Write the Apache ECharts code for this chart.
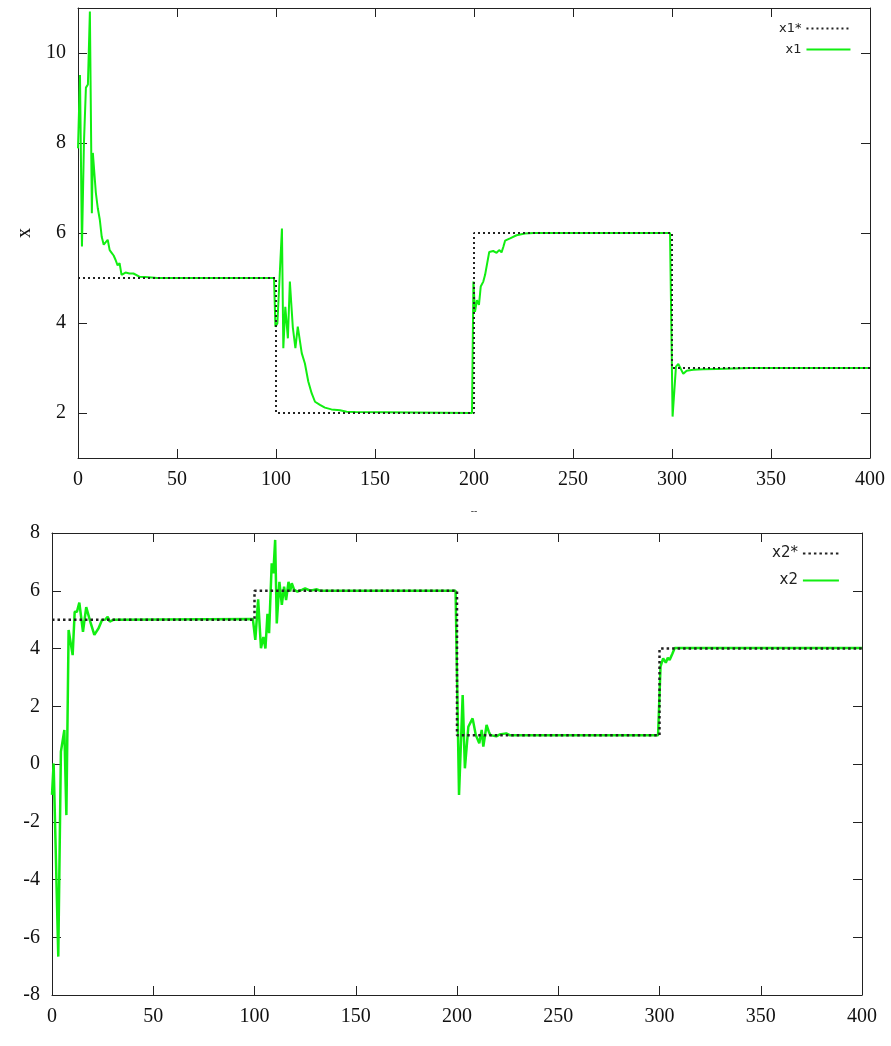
<!DOCTYPE html>
<html>
<head>
<meta charset="utf-8">
<script src="https://cdn.jsdelivr.net/npm/echarts@6/dist/echarts.min.js"></script>
<style>html,body{margin:0;padding:0;background:#fff;}#c{width:891px;height:1046px;}</style>
</head>
<body>
<div id="c"></div>
<script>
// ---- Top chart: x1 reference (step) ----
var x1RefT = [0, 100, 100, 200, 200, 300, 300, 400];
var x1RefV = [5, 5, 2, 2, 6, 6, 3, 3];
// ---- Top chart: x1 response ----
var x1T = [0,1,2,3,4,5,6,7,7.5,8,9,10,11,12,13,14,15,16,17,18,19,20,21,22,24,26,28,29,31,34,40,
  99,99.7,100.7,103,103.7,104.7,106,107,108.5,109.8,111,112,113,114.6,116.3,118,119.7,122.2,124.7,128,132.3,135.7,140,199,
  199.7,200.5,201.5,202.5,203.4,204.7,205.6,207.7,209.7,211.4,212.7,213.9,214.8,215.7,218.2,221.5,225.7,230,299,
  300.3,302,303.2,305.7,307.4,310.7,315.8,322.5,339,400];
var x1V = [7.88,9.51,5.70,8.0,9.23,9.3,10.92,6.44,7.78,7.75,6.9,6.55,6.3,5.91,5.74,5.72,5.85,5.62,5.56,5.5,5.4,5.28,5.33,5.07,5.12,5.1,5.1,5.08,5.03,5.02,5.0,
  5.0,3.92,3.99,6.1,3.44,4.36,3.66,4.92,3.9,3.44,3.92,3.9,3.33,3.1,2.70,2.44,2.25,2.18,2.12,2.08,2.06,2.03,2.02,2.0,
  4.92,4.25,4.51,4.4,4.81,4.92,5.07,5.58,5.6,5.56,5.62,5.57,5.69,5.83,5.88,5.95,5.99,6.0,6.0,
  1.92,3.03,3.09,2.87,2.94,2.96,2.97,2.98,3.0,3.0];
// ---- Bottom chart: x2 reference (step) ----
var x2RefT = [0, 100, 100, 200, 200, 300, 300, 400];
var x2RefV = [5, 5, 6, 6, 1, 1, 4, 4];
// ---- Bottom chart: x2 response ----
var x2T = [0,0.8,3.1,4.4,5.2,6.1,7.1,8.2,10.2,11.2,12.3,13.5,15.3,16.9,18.9,20.9,23,24.7,26.3,27.5,28.5,30.5,
  99.2,100.4,101.8,103.2,104.4,105.4,106.4,107.2,108.5,109.3,110.2,111,112.3,113.5,114.6,115.6,116.8,117.6,118.4,119.6,121.2,123.4,125,127.5,130.8,132.4,
  199.3,201,202.8,203.9,205.6,207.7,209.3,211,212.2,213,214.6,215.7,216.5,219.4,221,224.3,226,
  299.3,300.5,301.8,303.1,304.1,305,306.4,307.5,400];
var x2V = [-1.07,0.02,-6.67,0.43,0.37,1.18,-1.77,4.64,3.77,5.27,5.27,5.59,4.58,5.43,4.93,4.47,4.70,4.99,5.0,5.1,4.93,5.0,
  5.02,4.3,5.70,4.01,4.4,4.0,5.2,4.53,6.95,6.6,7.76,4.87,6.31,5.51,6.14,5.68,6.31,5.97,6.26,6.03,5.97,6.03,6.08,6.0,6.05,6.0,
  6.0,-1.07,2.39,-0.15,1.29,1.58,1.0,0.72,1.18,0.60,1.35,1.12,1.0,0.96,1.02,1.06,1.0,
  1.0,3.37,3.66,3.51,3.68,3.6,3.83,4.02,4.02];
// ---- Tick labels ----
var xTicks = [0, 50, 100, 150, 200, 250, 300, 350, 400];
var y1Ticks = [2, 4, 6, 8, 10];
var y2Ticks = [-8, -6, -4, -2, 0, 2, 4, 6, 8];

function zip(t, v) { return t.map(function (x, i) { return [x, v[i]]; }); }

var serif = 'Liberation Serif';
var lblFont = { fontFamily: serif, fontSize: 20, color: '#111' };

function xAx(grid, pos, showLabel, extra) {
  var o = {
    type: 'value', gridIndex: grid, position: pos, min: 0, max: 400, interval: 50,
    axisLine: { show: true, onZero: false, lineStyle: { color: '#222', width: 1 } },
    axisTick: { show: true, inside: true, length: 9, lineStyle: { color: '#222' } },
    axisLabel: Object.assign({ show: showLabel, margin: 12 }, lblFont),
    splitLine: { show: false }
  };
  return Object.assign(o, extra || {});
}
function yAx(grid, pos, showLabel, mn, mx, ticks, extra) {
  var o = {
    type: 'value', gridIndex: grid, position: pos, min: mn, max: mx,
    axisLine: { show: true, onZero: false, lineStyle: { color: '#222', width: 1 } },
    axisTick: { show: true, inside: true, length: 9, customValues: ticks, lineStyle: { color: '#222' } },
    axisLabel: Object.assign({ show: showLabel, margin: 12, customValues: ticks }, lblFont),
    splitLine: { show: false }
  };
  return Object.assign(o, extra || {});
}

var chart = echarts.init(document.getElementById('c'), null, { renderer: 'canvas' });
chart.setOption({
  animation: false,
  backgroundColor: '#fff',
  grid: [
    { left: 78, top: 8, width: 792, height: 450 },
    { left: 52, top: 533, width: 810, height: 462 }
  ],
  xAxis: [
    xAx(0, 'bottom', true, { name: '--', nameLocation: 'middle', nameGap: 48, nameTextStyle: { fontSize: 10, color: '#444' } }),
    xAx(0, 'top', false),
    xAx(1, 'bottom', true),
    xAx(1, 'top', false)
  ],
  yAxis: [
    yAx(0, 'left', true, 1, 11, y1Ticks, { name: 'x', nameLocation: 'middle', nameGap: 42, nameRotate: 90, nameTextStyle: { fontFamily: serif, fontSize: 20, color: '#111' } }),
    yAx(0, 'right', false, 1, 11, y1Ticks),
    Object.assign(yAx(1, 'left', true, -8, 8, y2Ticks), { interval: 2 }),
    Object.assign(yAx(1, 'right', false, -8, 8, y2Ticks), { interval: 2 })
  ],
  legend: [
    {
      data: ['x1*', 'x1'], orient: 'vertical', align: 'right', left: 774, top: 17,
      itemWidth: 44, itemHeight: 10, itemGap: 8,
      itemStyle: { opacity: 0 },
      textStyle: { fontFamily: 'DejaVu Sans', fontSize: 13, color: '#222' }
    },
    {
      data: ['x2*', 'x2'], orient: 'vertical', align: 'right', left: 767, top: 541,
      itemWidth: 36, itemHeight: 12, itemGap: 12,
      itemStyle: { opacity: 0 },
      textStyle: { fontFamily: 'DejaVu Sans', fontSize: 15, color: '#222' }
    }
  ],
  series: [
    { name: 'x1*', type: 'line', xAxisIndex: 0, yAxisIndex: 0, data: zip(x1RefT, x1RefV), symbol: 'none', z: 3,
      lineStyle: { color: '#222', width: 2, type: [2, 3] }, itemStyle: { color: '#222' } },
    { name: 'x1', type: 'line', xAxisIndex: 0, yAxisIndex: 0, data: zip(x1T, x1V), symbol: 'none', z: 2,
      lineStyle: { color: '#11ee11', width: 2 }, itemStyle: { color: '#11ee11' } },
    { name: 'x2*', type: 'line', xAxisIndex: 2, yAxisIndex: 2, data: zip(x2RefT, x2RefV), symbol: 'none', z: 3,
      lineStyle: { color: '#222', width: 2.5, type: [2.5, 3] }, itemStyle: { color: '#222' } },
    { name: 'x2', type: 'line', xAxisIndex: 2, yAxisIndex: 2, data: zip(x2T, x2V), symbol: 'none', z: 2,
      lineStyle: { color: '#11ee11', width: 2.5 }, itemStyle: { color: '#11ee11' } }
  ]
});
</script>
</body>
</html>
